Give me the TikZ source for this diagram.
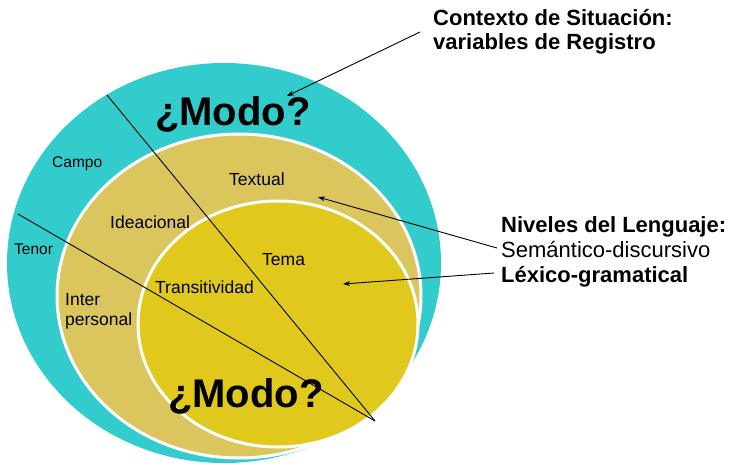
\documentclass[tikz,border=0pt]{standalone}
\usepackage{fontspec}
\setmainfont{Liberation Sans}
\usetikzlibrary{arrows.meta}
\definecolor{tealc}{RGB}{51,204,204}
\definecolor{tanc}{RGB}{218,198,92}
\definecolor{yelc}{RGB}{224,200,28}
\tikzset{
  lbl/.style={anchor=base west,inner sep=0pt,font=\fontsize{17.5}{20}\selectfont},
  slbl/.style={anchor=base west,inner sep=0pt,font=\fontsize{15.5}{18}\selectfont},
  head/.style={anchor=base west,inner sep=0pt,font=\fontsize{22}{26}\selectfont\bfseries},
  headr/.style={anchor=base west,inner sep=0pt,font=\fontsize{22}{26}\selectfont},
  modo/.style={anchor=base west,inner sep=0pt,font=\fontsize{40}{46}\selectfont\bfseries},
  sep/.style={draw=black,line width=0.9pt},
  arr/.style={draw=black,line width=0.9pt,-{Stealth[length=7pt,width=5pt]}}
}
\begin{document}
\begin{tikzpicture}[x=1pt,y=-1pt]
\useasboundingbox (0,0) rectangle (733,463);
\fill[white] (0,0) rectangle (733,463);
% ellipses
\fill[tealc] (224,263) ellipse [x radius=217pt, y radius=200pt];
\filldraw[fill=tanc,draw=white,line width=3pt] (239,296) ellipse [x radius=182pt, y radius=162pt];
\filldraw[fill=yelc,draw=white,line width=3pt] (278,324) ellipse [x radius=140pt, y radius=123pt];
% separating lines
\coordinate (apex) at (375,421);
\coordinate (l1) at (107,95);
\coordinate (l2) at (18,214);
\draw[sep] (l1) -- (apex);
\draw[sep] (l2) -- (apex);
% labels
\node[modo] (modotop) at (155,125) {¿Modo?};
\node[modo] (modobot) at (168,407) {¿Modo?};
\node[slbl] (campo) at (52,167) {Campo};
\node[slbl] (tenor) at (14,254) {Tenor};
\node[lbl] (textual) at (229,185) {Textual};
\node[lbl] (ideac) at (110,228) {Ideacional};
\node[lbl] (trans) at (155,293) {Transitividad};
\node[lbl] (tema) at (262,265) {Tema};
\node[lbl] (inter) at (65,305) {Inter};
\node[lbl] (pers) at (65,325) {personal};
% right texts
\node[head] (ctx1) at (433,25) {Contexto de Situación:};
\node[head] (ctx2) at (433,49) {variables de Registro};
\node[head] (niv) at (501,232) {Niveles del Lenguaje:};
\node[headr] (sem) at (501,257) {Semántico-discursivo};
\node[head] (lex) at (501,282) {Léxico-gramatical};
% arrows
\coordinate (a1s) at (420,32);
\coordinate (a1e) at (287,96);
\coordinate (a2s) at (497,248);
\coordinate (a2e) at (318,197);
\coordinate (a3s) at (494,273);
\coordinate (a3e) at (343,284);
\draw[arr] (a1s) -- (a1e);
\draw[arr] (a2s) -- (a2e);
\draw[arr] (a3s) -- (a3e);
\end{tikzpicture}
\end{document}
